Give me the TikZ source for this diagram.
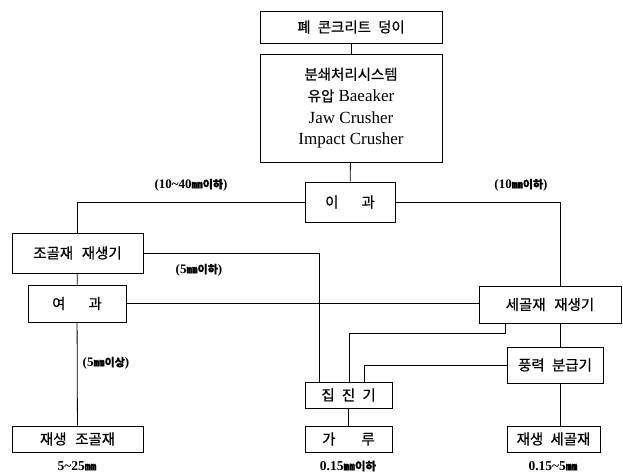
\documentclass[tikz,border=0pt]{standalone}
\usepackage{fontspec}
\setmainfont{Liberation Serif}
\newfontfamily\kr{Noto Sans CJK KR}[Scale=0.85,FakeBold=0.6]
\begin{document}
\begin{tikzpicture}[x=1pt,y=-1pt,
  box/.style={draw,line width=0.9pt,rectangle,inner sep=0pt,align=center},
  ln/.style={line width=0.8pt},
  lab/.style={font=\fontsize{13}{15}\selectfont\bfseries},
  bl/.style={font=\fontsize{13.5}{15}\selectfont\bfseries},
  kt/.style={font=\fontsize{17}{20}\selectfont\kr}]
\useasboundingbox (0,0) rectangle (623,474);
% boxes
\node[box,kt,minimum width=182pt,minimum height=32pt] (b1) at (351,27) {폐\hspace{0.5em}콘크리트\hspace{0.5em}덩이};
\node[box,minimum width=182pt,minimum height=108pt,font=\fontsize{17}{21.7}\selectfont] (b2) at (351,108)
  {{\kr 분쇄처리시스템}\\{\kr 유압} Baeaker\\Jaw Crusher\\Impact Crusher};
\node[box,kt,minimum width=90pt,minimum height=40pt] (b3) at (350,202) {이\hspace{1.6em}과};
\node[box,kt,minimum width=131pt,minimum height=40pt] (b4) at (77.5,253) {조골재\hspace{0.6em}재생기};
\node[box,kt,minimum width=98pt,minimum height=37pt] (b5) at (77,303.5) {여\hspace{1.6em}과};
\node[box,kt,minimum width=142pt,minimum height=37pt] (b6) at (550,304.5) {세골재\hspace{0.6em}재생기};
\node[box,kt,minimum width=96pt,minimum height=36pt] (b7) at (555,365) {풍력\hspace{0.5em}분급기};
\node[box,kt,minimum width=87pt,minimum height=26pt] (b8) at (348.5,395) {집\hspace{0.5em}진\hspace{0.5em}기};
\node[box,kt,minimum width=87pt,minimum height=26pt] (b9) at (348.5,439) {가\hspace{1.8em}루};
\node[box,kt,minimum width=131pt,minimum height=26pt] (b10) at (77.5,439) {재생\hspace{0.6em}조골재};
\node[box,kt,minimum width=93pt,minimum height=26pt] (b11) at (553.5,439) {재생\hspace{0.5em}세골재};
% helper coordinates
\coordinate (xr) at (560,0);
\coordinate (x5) at (319,0);
\coordinate (j1) at (505,333);
\coordinate (j2) at (349,333);
\coordinate (j3) at (364,0);
% connectors
\draw[ln] (b1) -- (b2);
\draw[ln] (b2) -- (b3);
\draw[ln] (b3.west) -| (b4.north);
\draw[ln] (b3.east) -| (xr |- b6.north);
\draw[ln] (b4) -- (b5);
\draw[ln] (b4.east) -| (x5 |- b8.north);
\draw[ln] (b5.east) -- (b5.east -| b6.west);
\draw[ln] (b5) -- (b10);
\draw[ln] (j1 |- b6.south) -- (j1) -- (j2) -- (j2 |- b8.north);
\draw[ln] (xr |- b6.south) -- (xr |- b7.north);
\draw[ln] (b7.west) -| (j3 |- b8.north);
\draw[ln] (b8) -- (b9);
\draw[ln] (xr |- b7.south) -- (xr |- b11.north);
% labels
\node[lab] (l1) at (191,185) {(10\textasciitilde40{\kr ㎜이하})};
\node[lab] (l2) at (521,185) {(10{\kr ㎜이하})};
\node[lab] (l3) at (199,270) {(5{\kr ㎜이하})};
\node[lab] (l4) at (106,363) {(5{\kr ㎜이상})};
\node[bl] (l5) at (77,466) {5\textasciitilde25{\kr ㎜}};
\node[bl] (l6) at (348,466) {0.15{\kr ㎜이하}};
\node[bl] (l7) at (553,466) {0.15\textasciitilde5{\kr ㎜}};
\end{tikzpicture}
\end{document}
